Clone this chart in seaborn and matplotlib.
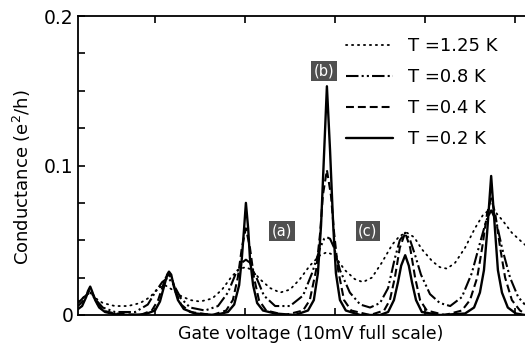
import matplotlib
matplotlib.use("Agg")
import matplotlib.pyplot as plt
import seaborn as sns
from matplotlib.ticker import FixedLocator, MultipleLocator, FixedFormatter, NullFormatter

sns.set_style("ticks")
plt.rcParams["font.family"] = ["DejaVu Sans"]
plt.rcParams.update({"text.color": "black", "axes.labelcolor": "black",
                     "xtick.color": "black", "ytick.color": "black"})

# Gate voltage (mV) and conductance (e^2/h) for each temperature
gate_125K = [0.29, 0.42, 0.56, 0.69, 0.84, 1.11, 1.40, 1.67, 1.89, 2.07,
             2.22, 2.38, 2.56, 2.78, 3.00, 3.27, 3.49, 3.71, 3.89, 4.02,
             4.16, 4.33, 4.56, 4.78, 5.00, 5.22, 5.44, 5.67, 5.82, 5.98,
             6.22, 6.44, 6.62, 6.82, 7.04, 7.27, 7.44, 7.60, 7.76, 7.93,
             8.16, 8.33, 8.49, 8.67, 8.89, 9.11, 9.29, 9.42, 9.56, 9.73,
             9.93, 10.11, 10.22]
cond_125K = [0.009, 0.012, 0.015, 0.011, 0.008, 0.006, 0.006, 0.008, 0.012, 0.018,
             0.020, 0.017, 0.013, 0.010, 0.009, 0.011, 0.017, 0.026, 0.031, 0.032,
             0.030, 0.024, 0.018, 0.015, 0.017, 0.024, 0.033, 0.040, 0.042, 0.040,
             0.030, 0.024, 0.022, 0.025, 0.035, 0.047, 0.053, 0.055, 0.052, 0.044,
             0.036, 0.032, 0.031, 0.035, 0.045, 0.058, 0.067, 0.070, 0.069, 0.063,
             0.055, 0.050, 0.047]

gate_08K = [0.29, 0.42, 0.56, 0.69, 0.84, 1.11, 1.56, 1.84, 2.00, 2.16,
            2.29, 2.42, 2.58, 2.78, 3.11, 3.40, 3.62, 3.80, 3.93, 4.02,
            4.11, 4.24, 4.42, 4.67, 5.00, 5.29, 5.49, 5.67, 5.76, 5.82,
            5.89, 5.98, 6.11, 6.33, 6.56, 6.78, 7.00, 7.18, 7.33, 7.44,
            7.56, 7.67, 7.78, 7.91, 8.11, 8.33, 8.56, 8.82, 9.04, 9.22,
            9.36, 9.47, 9.58, 9.71, 9.89, 10.07, 10.22]
cond_08K = [0.008, 0.012, 0.015, 0.010, 0.005, 0.002, 0.002, 0.007, 0.015, 0.022,
            0.025, 0.020, 0.011, 0.005, 0.003, 0.006, 0.015, 0.028, 0.035, 0.037,
            0.035, 0.026, 0.013, 0.006, 0.006, 0.013, 0.028, 0.045, 0.051, 0.052,
            0.051, 0.045, 0.030, 0.015, 0.007, 0.005, 0.008, 0.018, 0.038, 0.050,
            0.055, 0.050, 0.040, 0.027, 0.014, 0.008, 0.006, 0.012, 0.028, 0.048,
            0.063, 0.070, 0.063, 0.045, 0.025, 0.012, 0.007]

gate_04K = [0.29, 0.42, 0.51, 0.56, 0.62, 0.71, 0.84, 1.11, 1.67, 1.93,
            2.07, 2.18, 2.24, 2.31, 2.38, 2.47, 2.58, 2.78, 3.27, 3.58,
            3.73, 3.84, 3.93, 4.02, 4.11, 4.20, 4.31, 4.47, 4.89, 5.29,
            5.44, 5.58, 5.67, 5.73, 5.82, 5.91, 5.98, 6.07, 6.20, 6.36,
            6.78, 7.09, 7.22, 7.33, 7.44, 7.56, 7.67, 7.78, 7.89, 8.04,
            8.44, 8.82, 9.00, 9.16, 9.27, 9.38, 9.47, 9.56, 9.67, 9.78,
            9.93, 10.11, 10.22]
cond_04K = [0.006, 0.010, 0.015, 0.017, 0.014, 0.008, 0.003, 0.001, 0.0, 0.003,
            0.010, 0.020, 0.025, 0.027, 0.024, 0.015, 0.007, 0.002, 0.0, 0.003,
            0.010, 0.025, 0.045, 0.058, 0.045, 0.025, 0.010, 0.003, 0.0, 0.003,
            0.010, 0.030, 0.055, 0.080, 0.097, 0.080, 0.055, 0.030, 0.010, 0.003,
            0.0, 0.003, 0.010, 0.025, 0.045, 0.055, 0.045, 0.025, 0.010, 0.003,
            0.0, 0.003, 0.010, 0.025, 0.045, 0.068, 0.078, 0.068, 0.045, 0.025,
            0.010, 0.003, 0.001]

gate_02K = [0.29, 0.38, 0.47, 0.51, 0.56, 0.60, 0.67, 0.76, 0.89, 1.11,
            1.44, 1.78, 2.00, 2.11, 2.20, 2.27, 2.31, 2.36, 2.42, 2.51,
            2.64, 2.89, 3.33, 3.62, 3.76, 3.87, 3.93, 3.98, 4.02, 4.07,
            4.11, 4.18, 4.27, 4.40, 4.67, 5.11, 5.40, 5.53, 5.62, 5.69,
            5.76, 5.82, 5.89, 5.96, 6.02, 6.11, 6.24, 6.56, 7.00, 7.18,
            7.31, 7.40, 7.47, 7.56, 7.64, 7.71, 7.80, 7.93, 8.33, 8.89,
            9.09, 9.22, 9.31, 9.38, 9.47, 9.56, 9.62, 9.71, 9.84, 10.02,
            10.22]
cond_02K = [0.004, 0.006, 0.012, 0.016, 0.019, 0.016, 0.010, 0.005, 0.002, 0.0005,
            0.0, 0.0005, 0.003, 0.009, 0.019, 0.027, 0.029, 0.027, 0.019, 0.010,
            0.004, 0.001, 0.0, 0.002, 0.007, 0.020, 0.038, 0.058, 0.075, 0.058,
            0.038, 0.020, 0.008, 0.003, 0.001, 0.0, 0.003, 0.010, 0.028, 0.060,
            0.110, 0.153, 0.110, 0.060, 0.028, 0.010, 0.003, 0.0, 0.0, 0.002,
            0.010, 0.022, 0.033, 0.040, 0.033, 0.022, 0.010, 0.002, 0.0, 0.001,
            0.005, 0.015, 0.030, 0.055, 0.093, 0.055, 0.030, 0.015, 0.005, 0.001,
            0.0]

legend_labels = ["T =1.25 K", "T =0.8 K", "T =0.4 K", "T =0.2 K"]
peak_tags = ["(a)", "(b)", "(c)"]
tag_gate = [4.82, 5.76, 6.73]
tag_cond = [0.056, 0.163, 0.056]

fig = plt.figure(figsize=(5.25, 3.47), dpi=100)
ax = fig.add_axes([78 / 525, 32 / 347, 447 / 525, 299 / 347])

styles = [
    dict(linestyle=(0, (0.7, 2.6)), linewidth=1.3, dash_capstyle="round"),
    dict(linestyle=(0, (6, 1.5, 1, 1.5, 1, 1.5)), linewidth=1.5),
    dict(linestyle=(0, (3.8, 1.9)), linewidth=1.5),
    dict(linestyle="-", linewidth=1.7),
]
series = [(gate_125K, cond_125K), (gate_08K, cond_08K),
          (gate_04K, cond_04K), (gate_02K, cond_02K)]

handles = []
for (gx, gy), st in zip(series, styles):
    sns.lineplot(x=gx, y=gy, ax=ax, color="black", errorbar=None, **st)
    handles.append(ax.lines[-1])

ax.set_xlim(0.289, 10.222)
ax.set_ylim(0, 0.2)

for side in ["left", "top", "bottom"]:
    ax.spines[side].set_linewidth(1.3)
    ax.spines[side].set_color("black")
ax.spines["right"].set_visible(False)

ax.xaxis.set_major_locator(FixedLocator([2, 4, 6, 8, 10]))
ax.xaxis.set_major_formatter(NullFormatter())
ax.tick_params(axis="x", which="major", direction="in", top=True, bottom=True,
               length=5, width=1.2, labelbottom=False)
ax.yaxis.set_major_locator(FixedLocator([0, 0.1, 0.2]))
ax.yaxis.set_major_formatter(FixedFormatter(["0", "0.1", "0.2"]))
ax.yaxis.set_minor_locator(MultipleLocator(0.025))
ax.tick_params(axis="y", which="both", direction="in", length=5, width=1.2,
               labelsize=13.5, pad=3, right=False)

ax.set_xlabel("Gate voltage (10mV full scale)", fontsize=12.5)
ax.xaxis.set_label_coords(0.52, -0.035)
ax.set_ylabel("Conductance (e$^2$/h)", fontsize=13)
ax.yaxis.set_label_coords(-0.10, 0.46)

for tag, tx, ty in zip(peak_tags, tag_gate, tag_cond):
    ax.text(tx, ty, tag, color="white", fontsize=10.5, ha="center", va="center",
            bbox=dict(boxstyle="square,pad=0.18", fc="#505050", ec="none"))

leg = ax.legend(handles, legend_labels, loc="upper left",
                bbox_to_anchor=(0.60, 0.93), frameon=False, fontsize=13,
                handlelength=2.6, handletextpad=0.8, labelspacing=0.72,
                borderpad=0, borderaxespad=0)
for t in leg.get_texts():
    t.set_color("black")

fig.savefig("out.png", dpi=100)
